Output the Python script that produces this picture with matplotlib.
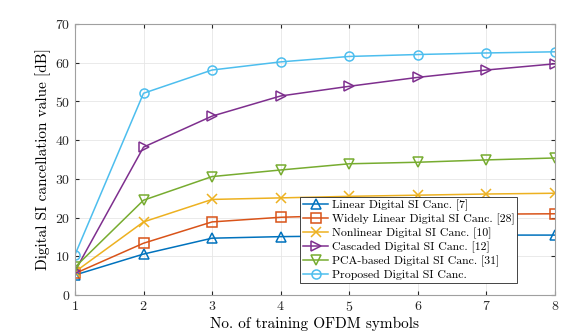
import matplotlib
matplotlib.use("Agg")
import matplotlib.pyplot as plt

plt.rcParams['font.family'] = 'cmr10'
plt.rcParams['axes.formatter.use_mathtext'] = True
plt.rcParams['mathtext.fontset'] = 'cm'

symbols = [1, 2, 3, 4, 5, 6, 7, 8]

linear = [5.2, 10.6, 14.7, 15.1, 15.3, 15.4, 15.5, 15.5]
widely_linear = [5.6, 13.4, 18.9, 20.1, 20.6, 20.8, 20.9, 21.0]
nonlinear = [6.0, 18.9, 24.7, 25.1, 25.5, 25.8, 26.1, 26.3]
cascaded = [6.2, 38.2, 46.2, 51.4, 53.9, 56.2, 58.1, 59.7]
pca_based = [7.2, 24.5, 30.6, 32.3, 33.9, 34.3, 34.9, 35.4]
proposed = [10.4, 52.1, 58.1, 60.2, 61.6, 62.1, 62.5, 62.8]

labels = [
    "Linear Digital SI Canc. [7]",
    "Widely Linear Digital SI Canc. [28]",
    "Nonlinear Digital SI Canc. [10]",
    "Cascaded Digital SI Canc. [12]",
    "PCA-based Digital SI Canc. [31]",
    "Proposed Digital SI Canc.",
]
colors = ["#0072BD", "#D95319", "#EDB120", "#7E2F8E", "#77AC30", "#4DBEEE"]
markers = ["^", "s", "x", ">", "v", "o"]
series = [linear, widely_linear, nonlinear, cascaded, pca_based, proposed]

fig = plt.figure(figsize=(5.81, 3.32), dpi=100)
ax = fig.add_axes([0.129, 0.111, 0.826, 0.817])

for y, lab, c, m in zip(series, labels, colors, markers):
    ax.plot(symbols, y, color=c, marker=m, markersize=6.5, markerfacecolor='none',
            markeredgewidth=1.1, linewidth=1.1, label=lab)

ax.set_xlim(1, 8)
ax.set_ylim(0, 70)
ax.set_xticks(symbols)
ax.set_yticks(range(0, 71, 10))
ax.grid(True, color='#e6e6e6', linewidth=0.6)
ax.set_axisbelow(True)
ax.tick_params(direction='in', labelsize=10, colors='#262626', length=3,
               top=True, right=True)
for s in ax.spines.values():
    s.set_color('#a0a0a0')
    s.set_linewidth(0.8)

ax.set_xlabel("No. of training OFDM symbols", fontsize=11, labelpad=2)
ax.set_ylabel("Digital SI cancellation value [dB]", fontsize=11, labelpad=3)

leg = ax.legend(loc='lower right', bbox_to_anchor=(0.922, 0.045), fontsize=8.5,
                fancybox=False, framealpha=1, edgecolor='#262626',
                borderpad=0.25, labelspacing=0.22, handlelength=2.1,
                handletextpad=0.3, borderaxespad=0)
leg.get_frame().set_linewidth(0.6)

fig.savefig("out.png", dpi=100)
